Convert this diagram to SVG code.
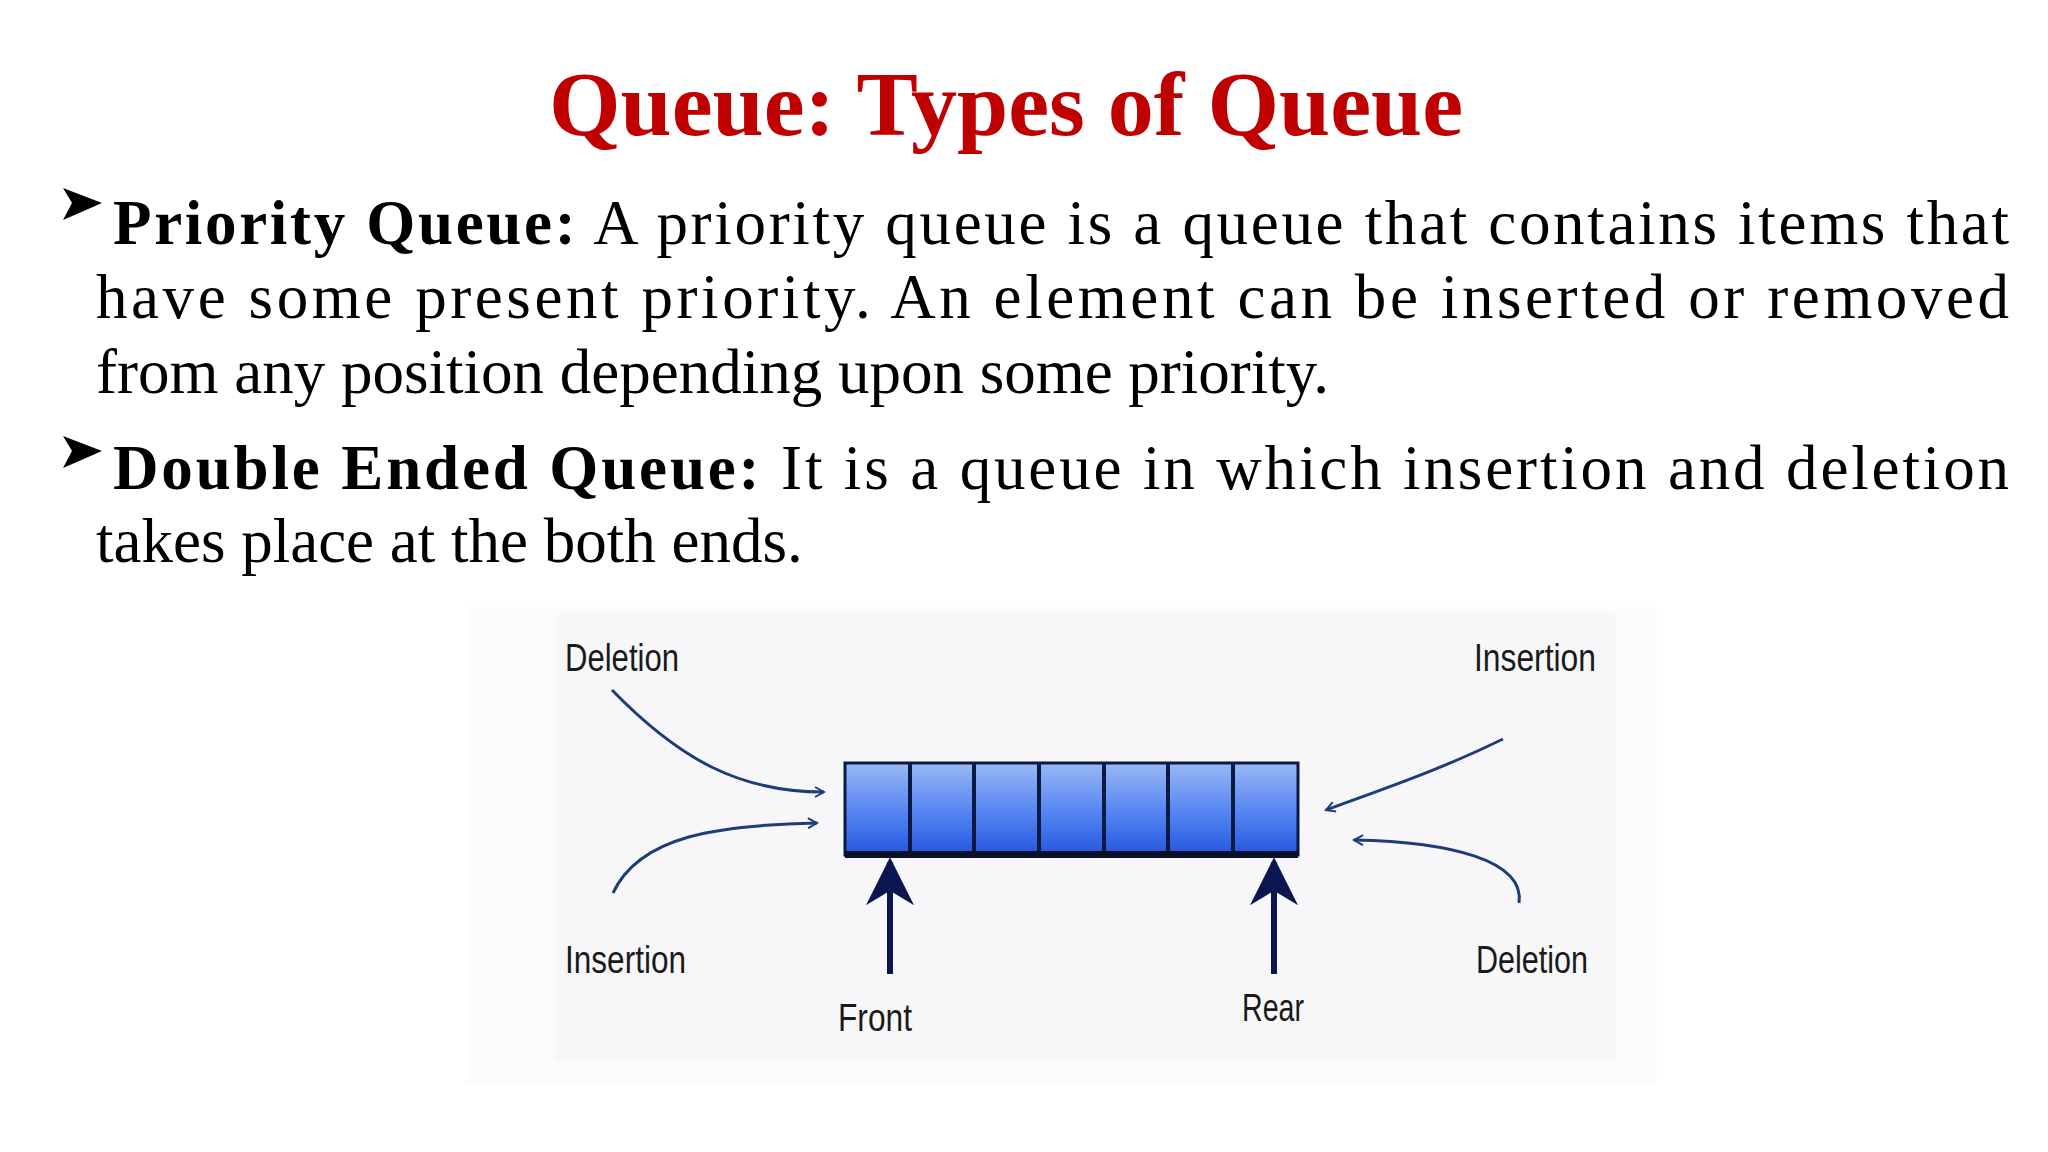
<svg xmlns="http://www.w3.org/2000/svg" width="2048" height="1152" viewBox="0 0 2048 1152">
<defs>
<linearGradient id="cell" x1="0" y1="0" x2="0" y2="1">
<stop offset="0" stop-color="#9ab8f6"/><stop offset="0.6" stop-color="#4d7ff0"/><stop offset="1" stop-color="#2456e0"/>
</linearGradient>
<marker id="open" viewBox="0 0 12 12" refX="10" refY="6" markerWidth="12" markerHeight="12" markerUnits="userSpaceOnUse" orient="auto">
<path d="M1,1 L10,6 L1,11" fill="none" stroke="#1e3d78" stroke-width="2"/>
</marker>
<marker id="solid" viewBox="0 0 10 10" refX="9" refY="5" markerWidth="8" markerHeight="8" orient="auto">
<path d="M0,0 L10,5 L0,10 L3,5 Z" fill="#0b1550"/>
</marker>
</defs>
<style>
.t{font-family:"Liberation Serif",serif;font-size:63px;fill:#000}
.b{font-weight:bold}
.lbl{font-family:"Liberation Sans Narrow","Liberation Sans",sans-serif;font-size:38px;fill:#1a1a1a}
.curve{fill:none;stroke:#1e3d78;stroke-width:3;marker-end:url(#open)}
.up{stroke:#0b1550;stroke-width:6;marker-end:url(#solid)}
.bul{fill:#000}
</style>
<rect width="2048" height="1152" fill="#fff"/>
<text x="1006" y="135" text-anchor="middle" font-family="Liberation Serif,serif" font-weight="bold" font-size="92" fill="#c00000">Queue: Types of Queue</text>
<path class="bul" d="M63,190 L102,205 L63,222 L72,205 Z M63,190 L66,188" transform="translate(0,-2)"/>
<path class="bul" d="M63,436 L102,451 L63,468 L72,451 Z"/>
<text class="t" x="113" y="244" textLength="1896" lengthAdjust="spacing"><tspan class="b">Priority Queue:</tspan> A priority queue is a queue that contains items that</text>
<text class="t" x="96" y="318" textLength="1913" lengthAdjust="spacing">have some present priority. An element can be inserted or removed</text>
<text class="t" x="96" y="393">from any position depending upon some priority.</text>
<text class="t" x="113" y="489" textLength="1896" lengthAdjust="spacing"><tspan class="b">Double Ended Queue:</tspan> It is a queue in which insertion and deletion</text>
<text class="t" x="96" y="562">takes place at the both ends.</text>
<rect x="467" y="607" width="1190" height="476" fill="#fbfbfc"/>
<rect x="555" y="614" width="1060" height="446" fill="#f7f7f9"/>
<g id="queue">
<rect x="845" y="763" width="453" height="92" fill="url(#cell)" stroke="#0a1a40" stroke-width="3"/>
<path d="M910,763V855M974,763V855M1039,763V855M1104,763V855M1168,763V855M1233,763V855" stroke="#0a1a40" stroke-width="4"/>
<rect x="845" y="851" width="453" height="7" fill="#0a0f2a"/>
</g>
<g id="labels">
<text class="lbl" x="565" y="671" textLength="114" lengthAdjust="spacingAndGlyphs">Deletion</text>
<text class="lbl" x="1474" y="671" textLength="122" lengthAdjust="spacingAndGlyphs">Insertion</text>
<text class="lbl" x="565" y="973" textLength="121" lengthAdjust="spacingAndGlyphs">Insertion</text>
<text class="lbl" x="1476" y="973" textLength="112" lengthAdjust="spacingAndGlyphs">Deletion</text>
<text class="lbl" x="838" y="1031" textLength="74" lengthAdjust="spacingAndGlyphs">Front</text>
<text class="lbl" x="1242" y="1021" textLength="62" lengthAdjust="spacingAndGlyphs">Rear</text>
</g>
<g id="connectors">
<path class="curve" d="M612,690 C680,760 740,792 824,792"/>
<path class="curve" d="M613,893 C640,835 720,825 817,823"/>
<path class="curve" d="M1503,739 C1440,770 1380,790 1326,810"/>
<path class="curve" d="M1519,903 C1525,860 1450,842 1354,840"/>
<line class="up" x1="890" y1="974" x2="890" y2="862"/>
<line class="up" x1="1274" y1="974" x2="1274" y2="862"/>
</g>
</svg>
